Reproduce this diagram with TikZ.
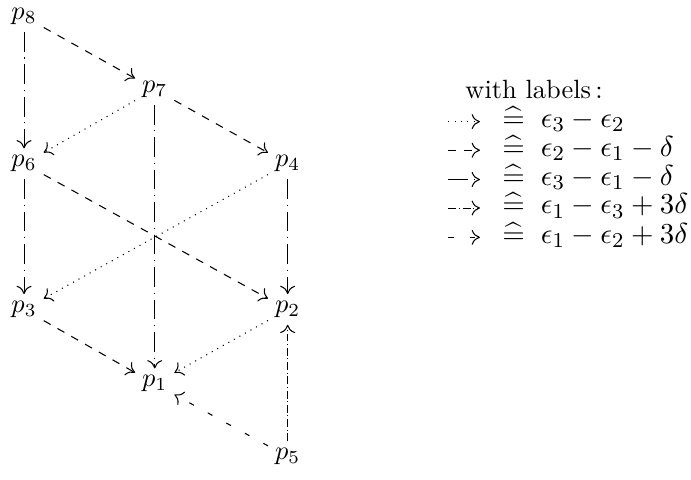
\documentclass[tikz,border=0pt]{standalone}
\usepackage{amsmath}
\usepackage{amssymb}
\usetikzlibrary{arrows.meta,positioning}

\begin{document}
\begin{tikzpicture}[
  pnt/.style={inner sep=2.5pt},
  lab/.style={anchor=west, inner sep=0pt},
  rowlab/.style={lab, font=\fontsize{10.95}{13}\selectfont, text height=6.5pt, text depth=2pt},
  tip/.style={-{To[length=1.1mm,width=2mm]}},
  dotarr/.style={tip, dotted},
  dasharr/.style={tip, dashed},
  dotdasharr/.style={tip, dash pattern=on 7.5pt off 2.2pt on 0.4pt off 2.2pt},
  dddarr/.style={tip, densely dash dot},
  sparsearr/.style={tip, dash pattern=on 2pt off 6pt}
]
\useasboundingbox (0,0) rectangle (9.2,6.39);
% lattice of points
\node[pnt] (p8) at (0.32,6.17) {$p_8$};
\node[pnt] (p7) at (2.06,5.20) {$p_7$};
\node[pnt] (p6) at (0.32,4.21) {$p_6$};
\node[pnt] (p4) at (3.83,4.21) {$p_4$};
\node[pnt] (p3) at (0.32,2.27) {$p_3$};
\node[pnt] (p2) at (3.83,2.27) {$p_2$};
\node[pnt] (p1) at (2.06,1.28) {$p_1$};
\node[pnt] (p5) at (3.83,0.31) {$p_5$};

\draw[dasharr] (p8) -- (p7);
\draw[dotdasharr] (p8) -- (p6);
\draw[dotarr] (p7) -- (p6);
\draw[dasharr] (p7) -- (p4);
\draw[dotdasharr] (p7) -- (p1);
\draw[dotdasharr] (p6) -- (p3);
\draw[dasharr] (p6) -- (p2);
\draw[dotarr] (p4) -- (p3);
\draw[dotdasharr] (p4) -- (p2);
\draw[dasharr] (p3) -- (p1);
\draw[dotarr] (p2) -- (p1);
\draw[dddarr] (p5) -- (p2);
\draw[sparsearr] (p5) -- (p1);

% legend
\node[lab] (title) at (6.19,5.20) {with labels\,:};
\coordinate (a1) at (5.97,4.77); \coordinate (b1) at (6.39,4.77);
\coordinate (a2) at (5.97,4.39); \coordinate (b2) at (6.39,4.39);
\coordinate (a3) at (5.97,4.00); \coordinate (b3) at (6.39,4.00);
\coordinate (a4) at (5.97,3.62); \coordinate (b4) at (6.39,3.62);
\coordinate (a5) at (5.97,3.23); \coordinate (b5) at (6.39,3.23);
\draw[dotarr] (a1) -- (b1);
\draw[dasharr] (a2) -- (b2);
\draw[dotdasharr] (a3) -- (b3);
\draw[dddarr] (a4) -- (b4);
\draw[sparsearr] (a5) -- (b5);
\node[rowlab] (l1) at (6.68,4.77) {$\widehat{=}\;\;\epsilon_3-\epsilon_2$};
\node[rowlab] (l2) at (6.68,4.39) {$\widehat{=}\;\;\epsilon_2-\epsilon_1-\delta$};
\node[rowlab] (l3) at (6.68,4.00) {$\widehat{=}\;\;\epsilon_3-\epsilon_1-\delta$};
\node[rowlab] (l4) at (6.68,3.62) {$\widehat{=}\;\;\epsilon_1-\epsilon_3+3\delta$};
\node[rowlab] (l5) at (6.68,3.23) {$\widehat{=}\;\;\epsilon_1-\epsilon_2+3\delta$};
\end{tikzpicture}
\end{document}
